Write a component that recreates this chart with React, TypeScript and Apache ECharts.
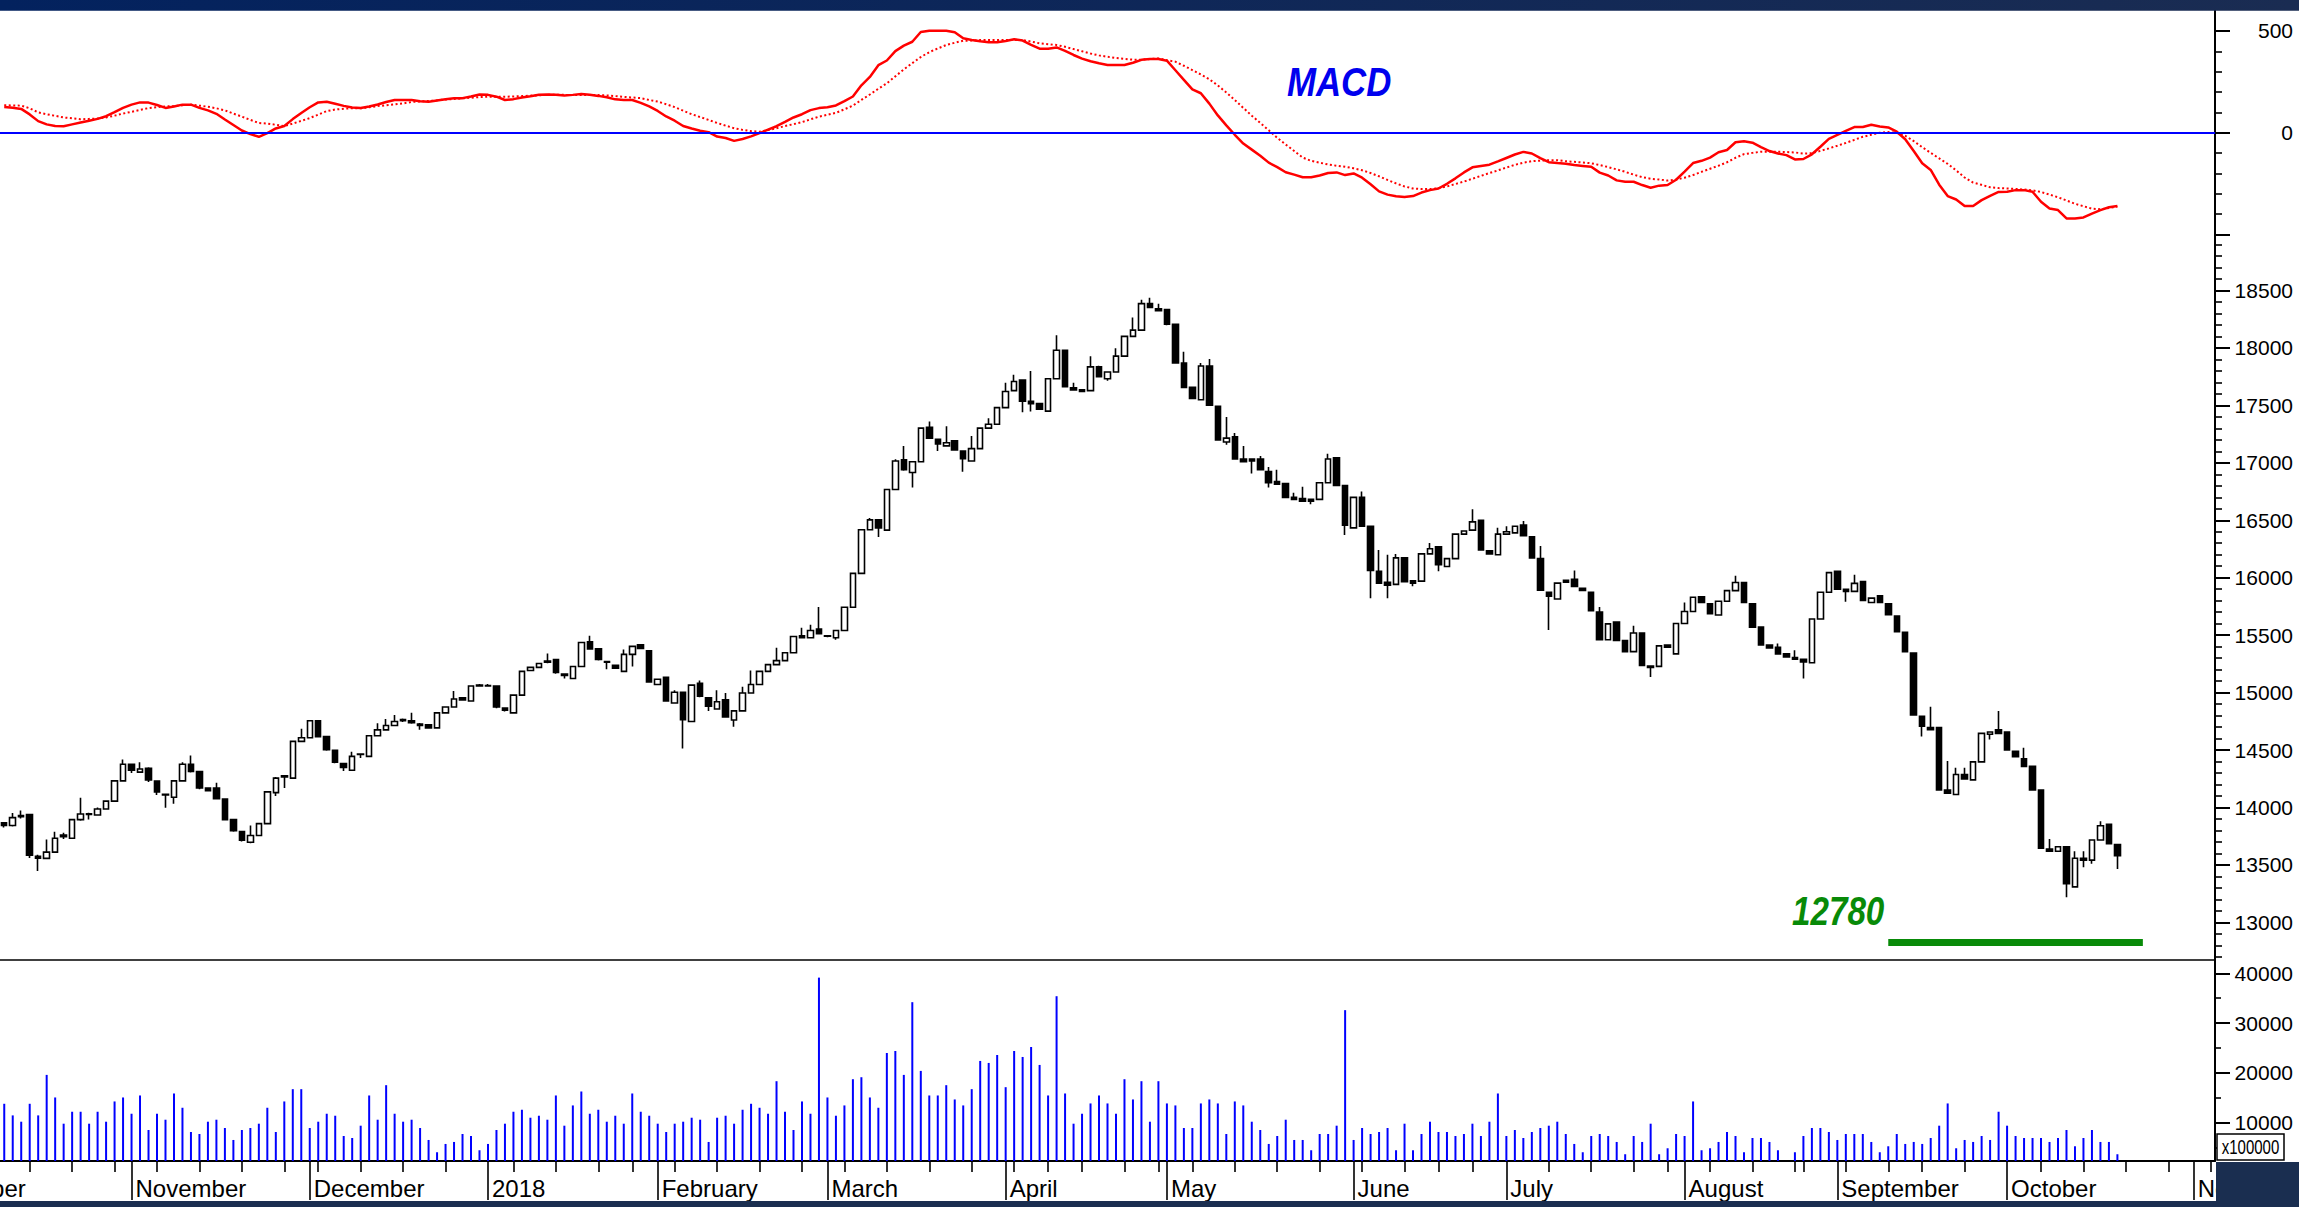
import React, { useEffect, useRef } from "react";
import * as echarts from "echarts";

const FONT = '"Liberation Sans", Arial, Helvetica, sans-serif';

// ---- time axis -------------------------------------------------------
const monthKeys = ["2017-10", "2017-11", "2017-12", "2018-01", "2018-02", "2018-03", "2018-04", "2018-05", "2018-06", "2018-07", "2018-08", "2018-09", "2018-10", "2018-11"];
const monthLabels = ["October", "November", "December", "2018", "February", "March", "April", "May", "June", "July", "August", "September", "October", "November"];
const monthStarts = [-8, 15, 36, 57, 77, 97, 118, 137, 159, 177, 198, 216, 236, 258];
const weekTickIndex = [3, 8, 13, 18, 23, 28, 33, 37, 42, 47, 52, 60, 65, 70, 74, 79, 84, 89, 94, 99, 104, 109, 114, 119, 123, 127, 132, 136, 140, 145, 150, 155, 160, 165, 169, 173, 182, 187, 192, 196, 201, 206, 211, 212, 217, 222, 226, 231, 240, 245, 250, 255, 260];
const SLOT_COUNT = 261;

// ---- prices ----------------------------------------------------------
const openPrices = [
  13867, 13843, 13930, 13939, 13575, 13557, 13612, 13760, 13733, 13895,
  13945, 13935, 13987, 14056, 14232, 14376, 14308, 14342, 14230, 14115,
  14090, 14232, 14376, 14314, 14170, 14170, 14074, 13895, 13791, 13698,
  13757, 13860, 14130, 14275, 14256, 14576, 14607, 14755, 14617, 14497,
  14383, 14325, 14462, 14445, 14624, 14676, 14714, 14765, 14755, 14727,
  14720, 14693, 14824, 14875, 14954, 14927, 15065, 15062, 15058, 14865,
  14824, 14978, 15192, 15220, 15265, 15288, 15161, 15123, 15227, 15443,
  15381, 15270, 15237, 15185, 15333, 15416, 15364, 15071, 15134, 14910,
  15003, 14748, 15082, 14954, 14858, 14937, 14762, 14841, 14996, 15071,
  15185, 15244, 15278, 15347, 15495, 15478, 15553, 15495, 15478, 15540,
  15743, 16038, 16417, 16503, 16414, 16768, 17026, 16916, 17009, 17308,
  17205, 17147, 17191, 17102, 17016, 17123, 17302, 17336, 17480, 17628,
  17721, 17536, 17515, 17450, 17732, 17980, 17653, 17635, 17628, 17835,
  17732, 17790, 17928, 18100, 18155, 18385, 18341, 18334, 18206, 17869,
  17656, 17549, 17842, 17491, 17181, 17226, 17033, 17033, 17033, 16923,
  16837, 16820, 16699, 16689, 16682, 16682, 16826, 17043, 16803, 16434,
  16699, 16448, 16056, 15959, 15942, 16173, 15973, 15970, 16207, 16269,
  16097, 16166, 16379, 16414, 16500, 16235, 16200, 16379, 16390, 16458,
  16355, 16166, 15873, 15815, 15977, 15987, 15908, 15873, 15701, 15460,
  15615, 15453, 15357, 15519, 15232, 15228, 15415, 15337, 15601, 15706,
  15834, 15772, 15675, 15795, 15888, 15958, 15772, 15570, 15415, 15395,
  15337, 15306, 15290, 15260, 15640, 15873, 16056, 15900, 15881, 15966,
  15784, 15842, 15772, 15667, 15524, 15345, 14793, 14696, 14696, 14152,
  14113, 14288, 14241, 14397, 14637, 14677, 14657, 14490, 14424, 14358,
  14152, 13639, 13620, 13659, 13309, 13558, 13542, 13717, 13853, 13678,
];
const closePrices = [
  13845, 13912, 13920, 13585, 13560, 13612, 13733, 13745, 13895, 13943,
  13940, 13987, 14056, 14232, 14376, 14325, 14335, 14240, 14135, 14110,
  14232, 14376, 14314, 14170, 14146, 14077, 13895, 13798, 13716, 13757,
  13860, 14136, 14256, 14265, 14576, 14607, 14755, 14617, 14503, 14394,
  14349, 14445, 14465, 14624, 14676, 14714, 14748, 14755, 14738, 14714,
  14693, 14824, 14875, 14944, 14937, 15058, 15058, 15058, 14875, 14848,
  14978, 15185, 15220, 15254, 15275, 15175, 15150, 15227, 15436, 15381,
  15288, 15264, 15213, 15333, 15402, 15385, 15092, 15116, 14927, 15003,
  14765, 15065, 14968, 14882, 14920, 14789, 14841, 14996, 15071, 15185,
  15244, 15278, 15347, 15488, 15478, 15540, 15512, 15490, 15540, 15743,
  16038, 16417, 16503, 16434, 16768, 17016, 16940, 17009, 17302, 17215,
  17164, 17174, 17112, 17036, 17123, 17302, 17336, 17480, 17621, 17708,
  17536, 17515, 17467, 17732, 17980, 17663, 17635, 17622, 17835, 17749,
  17790, 17928, 18100, 18155, 18385, 18351, 18323, 18206, 17869, 17656,
  17560, 17842, 17501, 17198, 17215, 17033, 17009, 17016, 16940, 16826,
  16813, 16699, 16682, 16665, 16665, 16826, 17033, 16803, 16458, 16699,
  16448, 16063, 15952, 15935, 16173, 15966, 15952, 16207, 16252, 16114,
  16166, 16379, 16407, 16486, 16242, 16207, 16379, 16400, 16448, 16365,
  16173, 15891, 15839, 15953, 15960, 15925, 15890, 15712, 15460, 15598,
  15453, 15357, 15519, 15237, 15220, 15407, 15395, 15601, 15706, 15830,
  15784, 15687, 15795, 15888, 15958, 15784, 15570, 15415, 15388, 15337,
  15310, 15290, 15267, 15640, 15873, 16044, 15900, 15881, 15951, 15803,
  15822, 15784, 15679, 15531, 15357, 14805, 14708, 14677, 14152, 14125,
  14288, 14249, 14397, 14645, 14657, 14645, 14502, 14443, 14358, 14152,
  13647, 13620, 13659, 13336, 13558, 13542, 13717, 13841, 13686, 13581,
];
const lowPrices = [
  13826, 13835, 13905, 13560, 13447, 13550, 13605, 13725, 13725, 13885,
  13895, 13930, 13980, 14050, 14225, 14300, 14300, 14222, 14110, 13998,
  14032, 14225, 14305, 14160, 14140, 14070, 13890, 13790, 13705, 13690,
  13750, 13855, 14100, 14170, 14250, 14570, 14600, 14610, 14495, 14385,
  14318, 14320, 14430, 14440, 14620, 14670, 14710, 14745, 14730, 14676,
  14685, 14690, 14820, 14870, 14930, 14920, 15050, 15050, 14865, 14835,
  14818, 14975, 15185, 15215, 15255, 15165, 15123, 15118, 15222, 15375,
  15280, 15203, 15205, 15180, 15227, 15380, 15085, 15065, 14920, 14905,
  14514, 14742, 14960, 14841, 14852, 14782, 14703, 14836, 14990, 15066,
  15180, 15238, 15272, 15342, 15470, 15472, 15505, 15482, 15460, 15535,
  15738, 16033, 16412, 16355, 16408, 16763, 16930, 16785, 17004, 17208,
  17102, 17142, 17105, 16923, 17010, 17118, 17296, 17330, 17475, 17622,
  17439, 17446, 17460, 17445, 17727, 17656, 17628, 17615, 17622, 17742,
  17715, 17785, 17922, 18095, 18150, 18345, 18316, 18198, 17862, 17650,
  17553, 17543, 17494, 17191, 17158, 17026, 17002, 16906, 16933, 16785,
  16806, 16692, 16675, 16658, 16640, 16676, 16820, 16796, 16372, 16428,
  16441, 15822, 15945, 15822, 15936, 15959, 15925, 15964, 16202, 16056,
  16092, 16160, 16374, 16409, 16236, 16200, 16195, 16374, 16385, 16358,
  16166, 15884, 15546, 15810, 15953, 15918, 15883, 15705, 15453, 15453,
  15446, 15350, 15350, 15230, 15135, 15222, 15388, 15330, 15595, 15700,
  15777, 15680, 15669, 15789, 15882, 15777, 15563, 15408, 15381, 15330,
  15303, 15283, 15123, 15254, 15634, 15867, 15893, 15791, 15875, 15796,
  15778, 15777, 15672, 15524, 15350, 14798, 14618, 14670, 14145, 14118,
  14107, 14242, 14235, 14391, 14591, 14638, 14495, 14436, 14351, 14145,
  13640, 13613, 13614, 13220, 13303, 13480, 13511, 13711, 13679, 13464,
];
const highPrices = [
  13870, 13953, 13975, 13945, 13590, 13722, 13790, 13780, 13900, 14084,
  13955, 14000, 14060, 14240, 14418, 14380, 14393, 14350, 14235, 14120,
  14240, 14395, 14452, 14320, 14175, 14215, 14080, 13900, 13795, 13843,
  13865, 14140, 14265, 14280, 14580, 14686, 14760, 14760, 14620, 14500,
  14390, 14486, 14470, 14630, 14734, 14770, 14806, 14775, 14824, 14735,
  14725, 14830, 14880, 15013, 14960, 15065, 15075, 15075, 15062, 14870,
  14985, 15190, 15225, 15260, 15340, 15292, 15165, 15232, 15440, 15495,
  15385, 15275, 15240, 15375, 15408, 15420, 15368, 15120, 15138, 15020,
  15008, 15070, 15106, 14958, 15020, 14996, 14846, 15050, 15192, 15190,
  15250, 15391, 15352, 15495, 15564, 15590, 15746, 15500, 15545, 15748,
  16043, 16422, 16520, 16508, 16773, 17030, 17147, 17014, 17307, 17360,
  17210, 17319, 17196, 17106, 17233, 17307, 17388, 17485, 17697, 17766,
  17725, 17800, 17520, 17737, 18110, 17985, 17697, 17640, 17928, 17845,
  17795, 17997, 18105, 18265, 18420, 18437, 18385, 18338, 18210, 17966,
  17660, 17869, 17904, 17495, 17398, 17260, 17147, 17038, 17060, 16964,
  16940, 16825, 16740, 16792, 16688, 16831, 17078, 17048, 16808, 16704,
  16751, 16452, 16241, 16200, 16207, 16178, 15978, 16212, 16303, 16274,
  16171, 16384, 16412, 16596, 16505, 16240, 16434, 16448, 16453, 16493,
  16360, 16276, 15878, 15958, 15982, 16063, 15913, 15878, 15746, 15603,
  15620, 15458, 15581, 15524, 15237, 15412, 15420, 15606, 15784, 15835,
  15840, 15777, 15800, 15893, 16017, 15963, 15777, 15575, 15420, 15427,
  15342, 15368, 15295, 15645, 15878, 16049, 16061, 15905, 16025, 15971,
  15827, 15847, 15777, 15672, 15529, 15350, 14798, 14878, 14701, 14405,
  14346, 14346, 14402, 14650, 14662, 14840, 14662, 14495, 14521, 14363,
  14157, 13725, 13664, 13664, 13620, 13620, 13722, 13880, 13858, 13683,
];

// ---- volume (x100000) -------------------------------------------------
const volumes = [
  13800, 11467, 10200, 13800, 11467, 19600, 15067, 9800, 12200, 12200,
  9800, 12200, 10200, 14267, 15067, 11800, 15467, 8533, 11800, 10600,
  15867, 13000, 8133, 7733, 10200, 10600, 8933, 6533, 8533, 8933,
  9800, 13000, 8133, 14267, 16733, 16733, 8933, 10200, 11800, 11400,
  7333, 6933, 9400, 15467, 10600, 17533, 11800, 10200, 10600, 8933,
  6533, 4067, 5733, 6133, 7733, 7333, 4467, 5733, 8533, 9800,
  12200, 12600, 11000, 11400, 10600, 15467, 9400, 13467, 16267, 11800,
  12600, 10200, 11400, 9800, 15867, 12200, 11400, 9800, 8133, 9800,
  10200, 11000, 10600, 6133, 11000, 11400, 9800, 12600, 13800, 13000,
  11800, 18333, 12200, 8533, 14267, 11800, 39133, 15067, 11400, 13467,
  18733, 19133, 15067, 13000, 24000, 24400, 19600, 34200, 20400, 15467,
  15467, 17533, 14667, 13467, 16733, 22400, 22000, 23600, 17133, 24400,
  23200, 25200, 21600, 15467, 35400, 15867, 9800, 11800, 13867, 15467,
  13867, 11800, 18733, 14667, 18333, 10200, 18333, 13867, 13467, 8933,
  8933, 13867, 14667, 13867, 7733, 14267, 13467, 10200, 8533, 5733,
  7333, 10600, 6533, 6533, 4467, 7733, 7733, 9400, 32600, 6533,
  8933, 7733, 8133, 8933, 4467, 9800, 4467, 7733, 10200, 8133,
  8133, 7333, 7733, 9800, 7333, 10200, 15867, 7333, 8533, 6933,
  8133, 8933, 9400, 10200, 7733, 5733, 4067, 7333, 7733, 7333,
  6133, 3667, 7333, 6133, 9800, 3667, 4867, 7733, 7333, 14267,
  4467, 4867, 6133, 8133, 7333, 4067, 6933, 6933, 6133, 4467,
  2300, 4067, 7333, 8933, 8933, 8133, 6533, 7733, 7733, 7733,
  6133, 4067, 5267, 7733, 5733, 6133, 5733, 6933, 9400, 13867,
  4867, 6533, 6133, 7333, 6533, 12200, 9400, 7333, 6933, 6933,
  6933, 6133, 6933, 8533, 5267, 6933, 8533, 6133, 6133, 3667,
];

// ---- MACD --------------------------------------------------------------
const macdLine = [
  127, 123, 117, 90, 57, 41, 33, 32, 41, 50,
  59, 68, 81, 101, 122, 138, 149, 148, 136, 122,
  129, 138, 138, 122, 110, 93, 65, 38, 11, -7,
  -20, -2, 21, 33, 67, 97, 125, 149, 152, 142,
  132, 124, 122, 129, 139, 151, 161, 161, 161, 155,
  152, 158, 164, 169, 170, 178, 188, 186, 177, 161,
  165, 173, 179, 187, 188, 187, 183, 186, 190, 187,
  181, 174, 164, 161, 161, 147, 129, 107, 80, 59,
  33, 21, 10, 3, -19, -26, -40, -31, -18, -2,
  15, 32, 53, 75, 91, 111, 121, 125, 134, 155,
  178, 233, 274, 332, 355, 401, 428, 447, 495, 501,
  501, 501, 494, 464, 456, 449, 444, 445, 451, 459,
  453, 432, 413, 413, 419, 402, 382, 364, 351, 341,
  333, 333, 333, 344, 358, 362, 362, 354, 307, 260,
  213, 194, 143, 85, 36, -10, -53, -83, -113, -147,
  -169, -194, -206, -219, -219, -210, -198, -195, -208, -200,
  -221, -253, -288, -304, -312, -316, -311, -294, -282, -274,
  -251, -224, -195, -170, -163, -157, -141, -124, -107, -94,
  -102, -125, -145, -149, -152, -159, -163, -167, -196, -210,
  -234, -241, -241, -257, -270, -260, -257, -231, -191, -149,
  -138, -122, -96, -85, -47, -42, -49, -71, -90, -102,
  -110, -131, -129, -106, -69, -30, -11, 9, 28, 28,
  39, 31, 26, 5, -32, -90, -150, -183, -255, -311,
  -328, -360, -360, -331, -310, -291, -290, -282, -282, -290,
  -339, -372, -380, -421, -421, -416, -397, -380, -366, -360,
];
const signalLine = [
  135, 134, 133, 120, 100, 91, 83, 75, 71, 66,
  68, 70, 75, 84, 94, 103, 112, 121, 126, 129,
  131, 135, 138, 133, 128, 120, 110, 94, 79, 63,
  48, 45, 39, 33, 45, 58, 72, 89, 106, 114,
  118, 120, 120, 125, 131, 135, 139, 144, 151, 154,
  156, 159, 163, 166, 169, 172, 175, 177, 177, 177,
  178, 180, 182, 184, 186, 187, 186, 185, 185, 185,
  185, 183, 180, 176, 173, 170, 161, 153, 140, 126,
  108, 91, 77, 63, 48, 35, 22, 14, 8, 5,
  13, 22, 33, 42, 52, 66, 79, 88, 98, 115,
  133, 161, 188, 216, 243, 277, 311, 342, 372, 396,
  414, 431, 442, 452, 453, 455, 455, 455, 455, 455,
  455, 448, 439, 435, 431, 422, 411, 400, 389, 380,
  373, 367, 363, 359, 359, 362, 365, 356, 349, 329,
  308, 286, 263, 232, 198, 161, 122, 84, 48, 12,
  -25, -58, -90, -122, -138, -147, -156, -162, -167, -175,
  -184, -198, -214, -232, -249, -264, -274, -277, -277, -272,
  -264, -252, -240, -226, -212, -198, -185, -171, -158, -147,
  -140, -137, -135, -135, -140, -143, -146, -150, -159, -169,
  -180, -192, -206, -218, -226, -230, -235, -230, -221, -208,
  -192, -177, -162, -145, -123, -105, -99, -93, -93, -93,
  -95, -97, -102, -101, -89, -77, -64, -50, -35, -20,
  -10, 0, 3, 0, -15, -41, -71, -99, -126, -153,
  -185, -220, -245, -256, -268, -272, -274, -276, -279, -283,
  -291, -304, -317, -333, -349, -361, -373, -376, -370, -363,
];

// ---- axis ticks ----------------------------------------------------------
const macdTickValues = [-500, 0, 500];
const macdLabelValues = [0, 500];
const macdMinorTicks = [-400, -300, -200, -100, 100, 200, 300, 400];
const priceTickValues = [13000, 13500, 14000, 14500, 15000, 15500, 16000, 16500, 17000, 17500, 18000, 18500];
const volumeTickValues = [10000, 20000, 30000, 40000];
const volumeMinorTicks = [5000, 15000, 25000, 35000];
const MACD_RANGE = [-527, 601.5];
const PRICE_RANGE = [12673, 18939];
const VOLUME_RANGE = [2309, 42671];

// ---- annotations -----------------------------------------------------------
const SUPPORT_LABEL = "12780";
const SUPPORT_LINE_VALUE = 12825;
const SUPPORT_FROM = 222;
const SUPPORT_TO = 252;
const VOLUME_UNIT = "x100000";
const INDICATOR_NAME = "MACD";

const categories: string[] = [];
for (let i = 0; i < SLOT_COUNT; i++) {
  let m = 0;
  for (let k = 0; k < monthStarts.length; k++) if (monthStarts[k] <= i) m = k;
  categories.push(`${monthKeys[m]} #${i - monthStarts[m] + 1}`);
}
const monthLabelByIndex: Record<number, string> = {};
monthStarts.forEach((s, k) => {
  if (s >= 0) monthLabelByIndex[s] = monthLabels[k];
});
const weekSet = new Set(weekTickIndex);
const priceMinorTicks: number[] = [];
for (let v = 12700; v <= 18900; v += 100) if (v % 500 !== 0) priceMinorTicks.push(v);

const candleData = openPrices.map((o, i) => [o, closePrices[i], lowPrices[i], highPrices[i]]);

const axisLabelStyle = {
  fontSize: 21, color: "#000", fontFamily: FONT, align: "right" as const, margin: 78,
  formatter: (v: number) => String(v),
};

function majorY(grid: number, range: number[], ticks: number[], labels: number[] | null) {
  return {
    type: "value",
    gridIndex: grid,
    position: "right",
    min: range[0],
    max: range[1],
    axisLine: { show: true, onZero: false, lineStyle: { color: "#000", width: 2 } },
    axisTick: { show: true, customValues: ticks, length: 15, lineStyle: { color: "#000", width: 2 } },
    axisLabel: labels ? { show: true, customValues: labels, ...axisLabelStyle } : { show: false },
    splitLine: { show: false },
  };
}
function minorY(grid: number, range: number[], ticks: number[], len: number) {
  return {
    type: "value",
    gridIndex: grid,
    position: "right",
    min: range[0],
    max: range[1],
    axisLine: { show: false, onZero: false },
    axisTick: { show: true, customValues: ticks, length: len, lineStyle: { color: "#000", width: 1.6 } },
    axisLabel: { show: false },
    splitLine: { show: false },
  };
}

export default function App() {
  const ref = useRef<HTMLDivElement>(null);
  useEffect(() => {
    if (!ref.current) return;
    const chart = echarts.init(ref.current, null, { renderer: "svg" });
    const gridBase = { left: 0, right: 84, containLabel: false, outerBoundsMode: "none" };
    const option: any = {
      animation: false,
      backgroundColor: "#ffffff",
      textStyle: { fontFamily: FONT },
      grid: [
        { ...gridBase, top: 10.3, height: 229.7 },
        { ...gridBase, top: 240, height: 720 },
        { ...gridBase, top: 960, height: 201 },
      ],
      xAxis: [
        { type: "category", gridIndex: 0, data: categories, boundaryGap: true, show: false },
        { type: "category", gridIndex: 1, data: categories, boundaryGap: true, show: false },
        {
          type: "category", gridIndex: 2, data: categories, boundaryGap: true, position: "bottom",
          axisLine: { show: true, onZero: false, lineStyle: { color: "#000", width: 2 } },
          axisTick: { show: true, alignWithLabel: true, interval: (i: number) => weekSet.has(i), length: 11, lineStyle: { color: "#000", width: 1.6 } },
          axisLabel: { show: false },
          splitLine: { show: false },
        },
        {
          type: "category", gridIndex: 2, data: categories, boundaryGap: true, position: "bottom",
          axisLine: { show: false, onZero: false },
          axisTick: { show: true, alignWithLabel: true, interval: (i: number) => monthLabelByIndex[i] !== undefined, length: 39, lineStyle: { color: "#000", width: 1.6 } },
          axisLabel: {
            show: true,
            interval: (i: number) => monthLabelByIndex[i] !== undefined,
            formatter: (_v: string, i: number) => monthLabelByIndex[i] ?? "",
            align: "left",
            verticalAlign: "middle",
            margin: 27,
            padding: [0, 0, 0, 4],
            fontSize: 24,
            color: "#000",
            fontFamily: FONT,
          },
          splitLine: { show: false },
        },
        {
          type: "category", gridIndex: 2, data: categories, boundaryGap: true, position: "top",
          axisLine: { show: true, onZero: false, lineStyle: { color: "#000", width: 1.5 } },
          axisTick: { show: false },
          axisLabel: { show: false },
        },
      ],
      yAxis: [
        majorY(0, MACD_RANGE, macdTickValues, macdLabelValues),
        minorY(0, MACD_RANGE, macdMinorTicks, 7),
        majorY(1, PRICE_RANGE, priceTickValues, priceTickValues),
        minorY(1, PRICE_RANGE, priceMinorTicks, 7),
        majorY(2, VOLUME_RANGE, volumeTickValues, volumeTickValues),
        minorY(2, VOLUME_RANGE, volumeMinorTicks, 6),
      ],
      series: [
        {
          name: "MACD", type: "line", xAxisIndex: 0, yAxisIndex: 0, data: macdLine,
          symbol: "none", lineStyle: { color: "#ff0000", width: 2.5 }, z: 4,
          markLine: {
            silent: true, symbol: ["none", "none"], label: { show: false },
            lineStyle: { color: "#0000ff", width: 2, type: "solid" },
            data: [{ yAxis: 0 }],
          },
        },
        {
          name: "Signal", type: "line", xAxisIndex: 0, yAxisIndex: 0, data: signalLine,
          symbol: "none", lineStyle: { color: "#ff0000", width: 2, type: [2, 2.5] }, z: 3,
        },
        {
          name: "Price", type: "candlestick", xAxisIndex: 1, yAxisIndex: 2, data: candleData,
          barWidth: 6,
          itemStyle: { color: "#ffffff", color0: "#000000", borderColor: "#000000", borderColor0: "#000000", borderWidth: 1.6 },
          markLine: {
            silent: true, symbol: ["none", "none"], label: { show: false },
            lineStyle: { color: "#088a08", width: 7, type: "solid", cap: "butt" },
            data: [[{ coord: [categories[SUPPORT_FROM], SUPPORT_LINE_VALUE] }, { coord: [categories[SUPPORT_TO], SUPPORT_LINE_VALUE] }]],
          },
        },
        {
          name: "Volume", type: "bar", xAxisIndex: 2, yAxisIndex: 4, data: volumes,
          barWidth: 2, itemStyle: { color: "#0000ff" },
        },
      ],
    };
    chart.setOption(option);

    const xa = chart.convertToPixel({ xAxisIndex: 3 }, categories[0]) as number;
    const xb = chart.convertToPixel({ xAxisIndex: 3 }, categories[1]) as number;
    const step = xb - xa;
    const octX = xa + monthStarts[0] * step + 4;

    chart.setOption({
      graphic: [
        {
          type: "rect", id: "topbar", z: 100, shape: { x: 0, y: 0, width: 2299, height: 10.7 },
          style: { fill: { type: "linear", x: 0, y: 0, x2: 1, y2: 0, colorStops: [{ offset: 0, color: "#03225e" }, { offset: 1, color: "#1a2c52" }] } },
        },
        { type: "rect", id: "botbar", z: 100, shape: { x: 0, y: 1201, width: 2299, height: 6 }, style: { fill: "#1a2e50" } },
        { type: "rect", id: "corner", z: 100, shape: { x: 2216, y: 1162, width: 83, height: 45 }, style: { fill: "#1a2e50" } },
        { type: "rect", id: "unitbox", z: 101, shape: { x: 2217, y: 1134, width: 67, height: 26 }, style: { fill: "#ffffff", stroke: "#000", lineWidth: 1.5 } },
        {
          type: "text", id: "unittext", z: 102, x: 2250.5, y: 1147.5, scaleY: 1.3,
          style: { text: VOLUME_UNIT, fill: "#000", font: `15px ${FONT}`, textAlign: "center", textVerticalAlign: "middle" },
        },
        {
          type: "text", id: "macdname", z: 102, x: 1287, y: 82, scaleX: 0.87,
          style: { text: INDICATOR_NAME, fill: "#0000ee", font: `italic bold 40px ${FONT}`, textAlign: "left", textVerticalAlign: "middle" },
        },
        {
          type: "text", id: "support", z: 102, x: 1792, y: 911, scaleX: 0.83,
          style: { text: SUPPORT_LABEL, fill: "#088a08", font: `italic bold 40px ${FONT}`, textAlign: "left", textVerticalAlign: "middle" },
        },
        {
          type: "text", id: "octlabel", z: 90, x: octX, y: 1188,
          style: { text: monthLabels[0], fill: "#000", font: `24px ${FONT}`, textAlign: "left", textVerticalAlign: "middle" },
        },
      ],
    });
    return () => chart.dispose();
  }, []);
  return <div ref={ref} style={{ position: "fixed", left: 0, top: 0, width: 2299, height: 1207 }} />;
}
